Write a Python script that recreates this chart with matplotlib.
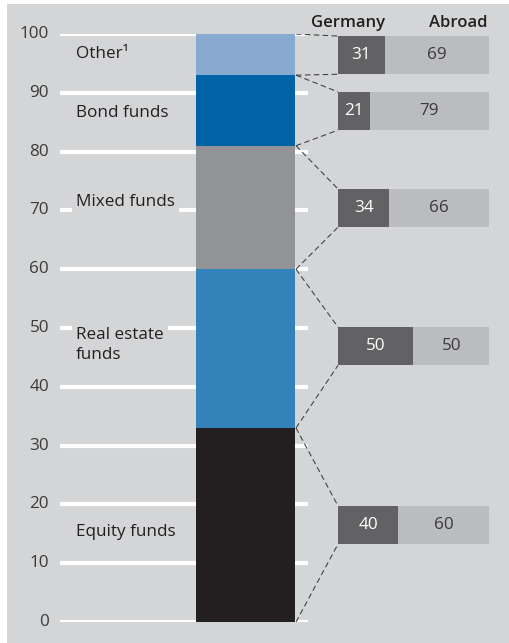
import matplotlib.pyplot as plt
from matplotlib.patches import Rectangle

plt.rcParams['font.family'] = ['Open Sans', 'DejaVu Sans']

# Data
categories = ["Equity funds", "Real estate\nfunds", "Mixed funds", "Bond funds", "Other\u00b9"]
shares = [33, 27, 21, 12, 7]               # share of total, %
germany = [40, 50, 34, 21, 31]             # % in Germany
abroad = [60, 50, 66, 79, 69]              # % abroad
seg_colors = ["#231f20", "#3482ba", "#929396", "#0063a6", "#88a9d0"]

# layout (positions of the split bars on the 0-100 scale)
row_centers = [16.5, 46.9, 70.4, 86.9, 96.4]
row_height = 6.5
label_y = [15.3, 47.1, 71.4, 86.6, 96.6]

BG = "#d4d5d7"
FS = 12.3
W, H = 510, 643
fig = plt.figure(figsize=(W / 100, H / 100), dpi=100)
fig.patches.append(Rectangle((7 / W, 0), 1 - 7 / W, 1 - 4 / H, transform=fig.transFigure,
                             facecolor=BG, edgecolor="none", zorder=-10))

y0 = 21 / H
yh = (622 - 34) / H
ax = fig.add_axes([0, y0, 1, yh])
ax.set_xlim(0, W)
ax.set_ylim(0, 100)
ax.axis("off")

# gridlines and tick labels
for v in range(0, 101, 10):
    ax.plot([60, 308], [v, v], color="white", lw=3, solid_capstyle="butt", zorder=1)
    ax.text(49, v, str(v), ha="right", va="center", fontsize=FS, color="#3a3a3a")

# stacked column
bottom = 0
bounds = [0]
for s, c in zip(shares, seg_colors):
    ax.bar(245.5, s, width=99, bottom=bottom, color=c, zorder=3)
    bottom += s
    bounds.append(bottom)

# category labels
for lab, ly in zip(categories, label_y):
    ax.text(76, ly, lab, ha="left", va="center", fontsize=FS, color="#231f20",
            linespacing=1.35, zorder=2,
            bbox=dict(facecolor=BG, edgecolor="none", pad=3))

# dashed connectors
for i in range(len(shares)):
    top = row_centers[i] + row_height / 2
    bot = row_centers[i] - row_height / 2
    ax.plot([296, 338], [bounds[i + 1], top], color="#444444", lw=0.8, ls=(0, (5, 3)), zorder=2)
    ax.plot([296, 338], [bounds[i], bot], color="#444444", lw=0.8, ls=(0, (5, 3)), zorder=2)

# Germany / Abroad split bars
ax2 = fig.add_axes([338 / W, y0, (489 - 338) / W, yh])
ax2.set_xlim(0, 100)
ax2.set_ylim(0, 100)
ax2.axis("off")
ax2.barh(row_centers, germany, height=row_height, color="#626264")
ax2.barh(row_centers, abroad, left=germany, height=row_height, color="#bbbcbf")
for yc, g, a in zip(row_centers, germany, abroad):
    ax2.text(g / 2, yc, str(g), ha="center", va="center", fontsize=FS, color="white")
    ax2.text(g + a / 2, yc, str(a), ha="center", va="center", fontsize=FS, color="#3a3a3a")

fig.text(348 / W, 1 - 23 / H, "Germany", ha="center", va="center", fontsize=12,
         fontweight="semibold", color="#231f20")
fig.text(488 / W, 1 - 23 / H, "Abroad", ha="right", va="center", fontsize=12,
         fontweight="semibold", color="#231f20")

fig.savefig("out.png", dpi=100, facecolor="white")
